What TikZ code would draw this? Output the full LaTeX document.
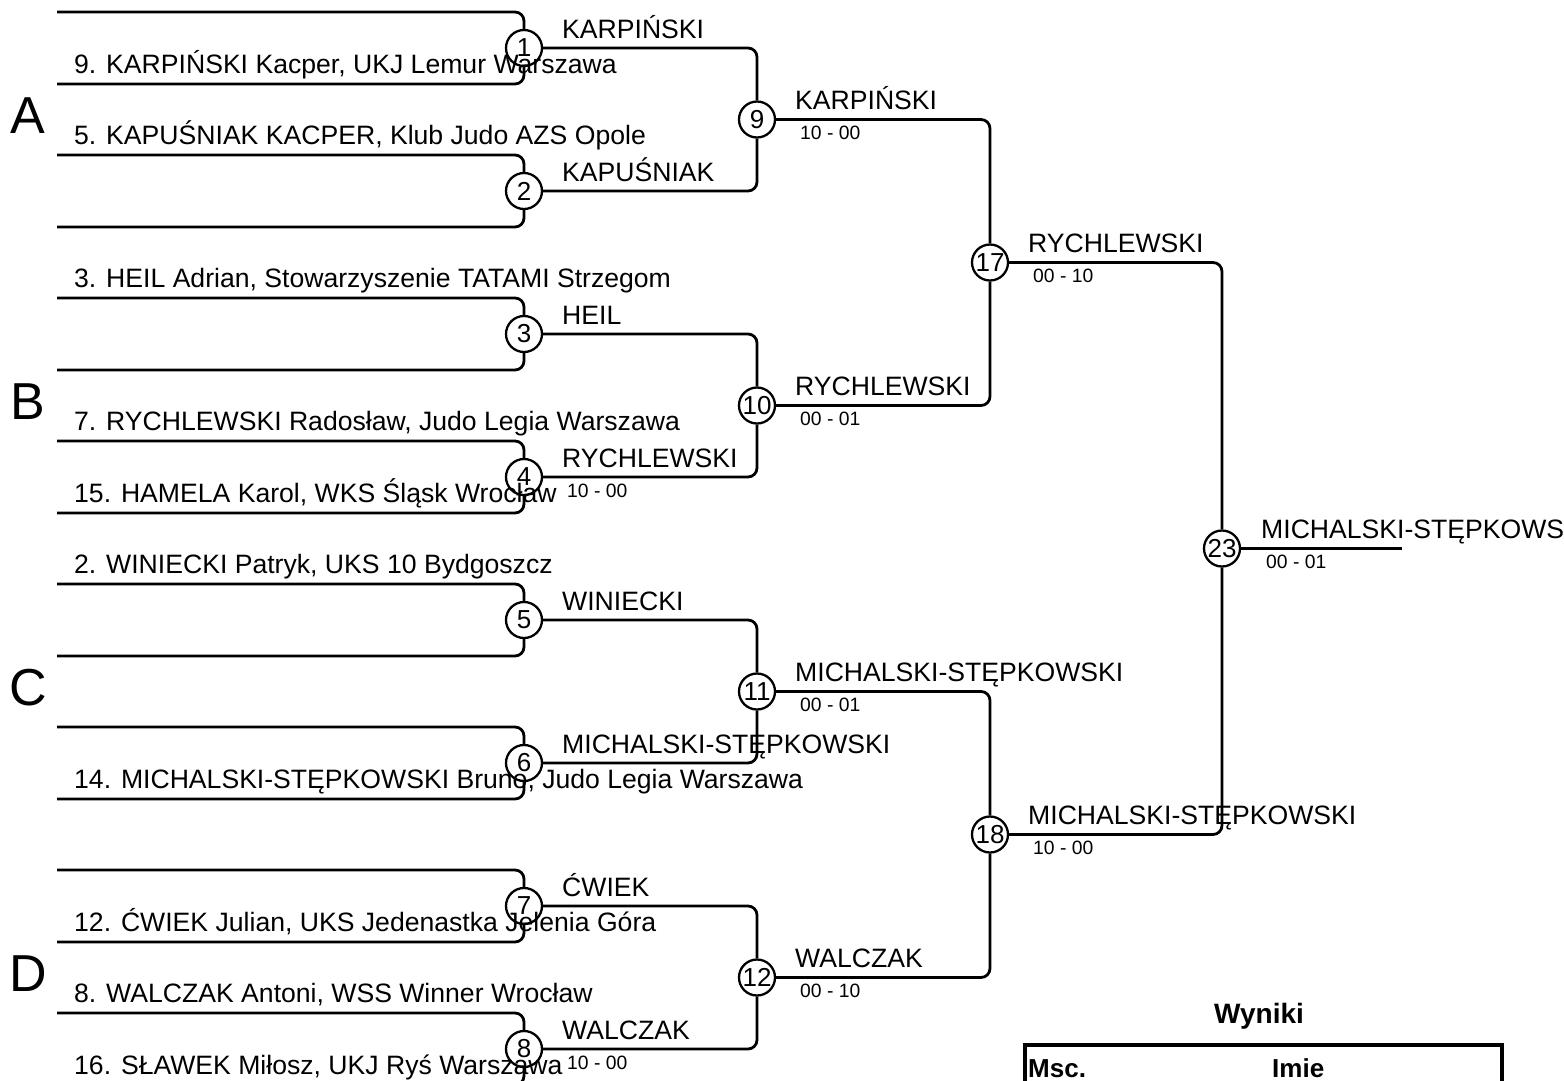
\documentclass[tikz,border=0pt]{standalone}
\usepackage{fontspec}
\setmainfont{Liberation Sans}
\usetikzlibrary{positioning,calc}

\tikzset{
  mecz/.style={circle,draw,line width=2.3pt,fill=white,minimum size=36pt,inner sep=0pt,font=\fontsize{26}{26}\selectfont},
  drabinka/.style={line width=2.8pt,rounded corners=9pt},
  zawodnik/.style={anchor=base west,inner sep=0pt,font=\fontsize{26.6}{30}\selectfont},
  wynik/.style={anchor=base west,inner sep=0pt,font=\fontsize{19.3}{22}\selectfont},
  grupa/.style={anchor=base,inner sep=0pt,font=\fontsize{52}{60}\selectfont},
  naglowek/.style={anchor=base west,inner sep=0pt,font=\fontsize{26}{30}\selectfont\bfseries},
}

\begin{document}
\begin{tikzpicture}[x=1pt,y=-1pt]
\useasboundingbox (0,0) rectangle (1564,1080);
\clip (0,0) rectangle (1564,1080);

% pojedynki
\node[mecz] (m1) at (524,48) {1};
\node[mecz] (m2) at (524,191) {2};
\node[mecz] (m3) at (524,334) {3};
\node[mecz] (m4) at (524,477) {4};
\node[mecz] (m5) at (524,620) {5};
\node[mecz] (m6) at (524,763) {6};
\node[mecz] (m7) at (524,906) {7};
\node[mecz] (m8) at (524,1049) {8};
\node[mecz] (m9) at (757,119.5) {9};
\node[mecz] (m10) at (757,405.5) {10};
\node[mecz] (m11) at (757,691.5) {11};
\node[mecz] (m12) at (757,977.5) {12};
\node[mecz] (m17) at (990,262.5) {17};
\node[mecz] (m18) at (990,834.5) {18};
\node[mecz] (m23) at (1222,548.5) {23};

% miejsca w drabince
\coordinate (s1) at (57,12);   \coordinate (s2) at (57,84);
\coordinate (s3) at (57,155);  \coordinate (s4) at (57,227);
\coordinate (s5) at (57,298);  \coordinate (s6) at (57,370);
\coordinate (s7) at (57,441);  \coordinate (s8) at (57,513);
\coordinate (s9) at (57,584);  \coordinate (s10) at (57,656);
\coordinate (s11) at (57,727); \coordinate (s12) at (57,799);
\coordinate (s13) at (57,870); \coordinate (s14) at (57,942);
\coordinate (s15) at (57,1013);\coordinate (s16) at (57,1085);
\coordinate (koniec) at (1402,548.5);

\draw[drabinka] (s1) -| (m1) (s2) -| (m1);
\draw[drabinka] (s3) -| (m2) (s4) -| (m2);
\draw[drabinka] (s5) -| (m3) (s6) -| (m3);
\draw[drabinka] (s7) -| (m4) (s8) -| (m4);
\draw[drabinka] (s9) -| (m5) (s10) -| (m5);
\draw[drabinka] (s11) -| (m6) (s12) -| (m6);
\draw[drabinka] (s13) -| (m7) (s14) -| (m7);
\draw[drabinka] (s15) -| (m8) (s16) -| (m8);
\draw[drabinka] (m1) -| (m9) (m2) -| (m9);
\draw[drabinka] (m3) -| (m10) (m4) -| (m10);
\draw[drabinka] (m5) -| (m11) (m6) -| (m11);
\draw[drabinka] (m7) -| (m12) (m8) -| (m12);
\draw[drabinka] (m9) -| (m17) (m10) -| (m17);
\draw[drabinka] (m11) -| (m18) (m12) -| (m18);
\draw[drabinka] (m17) -| (m23) (m18) -| (m23);
\draw[drabinka] (m23) -- (koniec);

% grupy
\node[grupa] (gA) at (28,133) {A};
\node[grupa] (gB) at (28,419) {B};
\node[grupa] (gC) at (28,705) {C};
\node[grupa] (gD) at (28,991) {D};

% zawodnicy
\node[zawodnik] (z2) at (74,73) {9. KARPIŃSKI Kacper, UKJ Lemur Warszawa};
\node[zawodnik] (z3) at (74,144) {5. KAPUŚNIAK KACPER, Klub Judo AZS Opole};
\node[zawodnik] (z5) at (74,287) {3. HEIL Adrian, Stowarzyszenie TATAMI Strzegom};
\node[zawodnik] (z7) at (74,430) {7. RYCHLEWSKI Radosław, Judo Legia Warszawa};
\node[zawodnik] (z8) at (74,502) {15. HAMELA Karol, WKS Śląsk Wrocław};
\node[zawodnik] (z9) at (74,573) {2. WINIECKI Patryk, UKS 10 Bydgoszcz};
\node[zawodnik] (z12) at (74,788) {14. MICHALSKI-STĘPKOWSKI Bruno, Judo Legia Warszawa};
\node[zawodnik] (z14) at (74,931) {12. ĆWIEK Julian, UKS Jedenastka Jelenia Góra};
\node[zawodnik] (z15) at (74,1002) {8. WALCZAK Antoni, WSS Winner Wrocław};
\node[zawodnik] (z16) at (74,1074) {16. SŁAWEK Miłosz, UKJ Ryś Warszawa};

% zwyciezcy
\node[zawodnik] (w1) at (562,38) {KARPIŃSKI};
\node[zawodnik] (w2) at (562,181) {KAPUŚNIAK};
\node[zawodnik] (w3) at (562,324) {HEIL};
\node[zawodnik] (w4) at (562,467) {RYCHLEWSKI};
\node[zawodnik] (w5) at (562,610) {WINIECKI};
\node[zawodnik] (w6) at (562,753) {MICHALSKI-STĘPKOWSKI};
\node[zawodnik] (w7) at (562,896) {ĆWIEK};
\node[zawodnik] (w8) at (562,1039) {WALCZAK};
\node[zawodnik] (w9) at (795,109.5) {KARPIŃSKI};
\node[zawodnik] (w10) at (795,395.5) {RYCHLEWSKI};
\node[zawodnik] (w11) at (795,681.5) {MICHALSKI-STĘPKOWSKI};
\node[zawodnik] (w12) at (795,967.5) {WALCZAK};
\node[zawodnik] (w17) at (1028,252.5) {RYCHLEWSKI};
\node[zawodnik] (w18) at (1028,824.5) {MICHALSKI-STĘPKOWSKI};
\node[zawodnik] (w23) at (1261,538.5) {MICHALSKI-STĘPKOWSKI};

% wyniki walk
\node[wynik] (r4) at (567,497) {10 - 00};
\node[wynik] (r8) at (567,1069) {10 - 00};
\node[wynik] (r9) at (800,139.5) {10 - 00};
\node[wynik] (r10) at (800,425.5) {00 - 01};
\node[wynik] (r11) at (800,711.5) {00 - 01};
\node[wynik] (r12) at (800,997.5) {00 - 10};
\node[wynik] (r17) at (1033,282.5) {00 - 10};
\node[wynik] (r18) at (1033,854.5) {10 - 00};
\node[wynik] (r23) at (1266,568.5) {00 - 01};

% tabela wynikow
\node[anchor=base,inner sep=0pt,font=\fontsize{28}{32}\selectfont\bfseries] (tytul) at (1259,1023) {Wyniki};
\draw[line width=4.5pt] (1025,1045) rectangle (1502,1120);
\node[naglowek] (msc) at (1028,1077) {Msc.};
\node[naglowek] (imie) at (1272,1077) {Imie};
\end{tikzpicture}
\end{document}
